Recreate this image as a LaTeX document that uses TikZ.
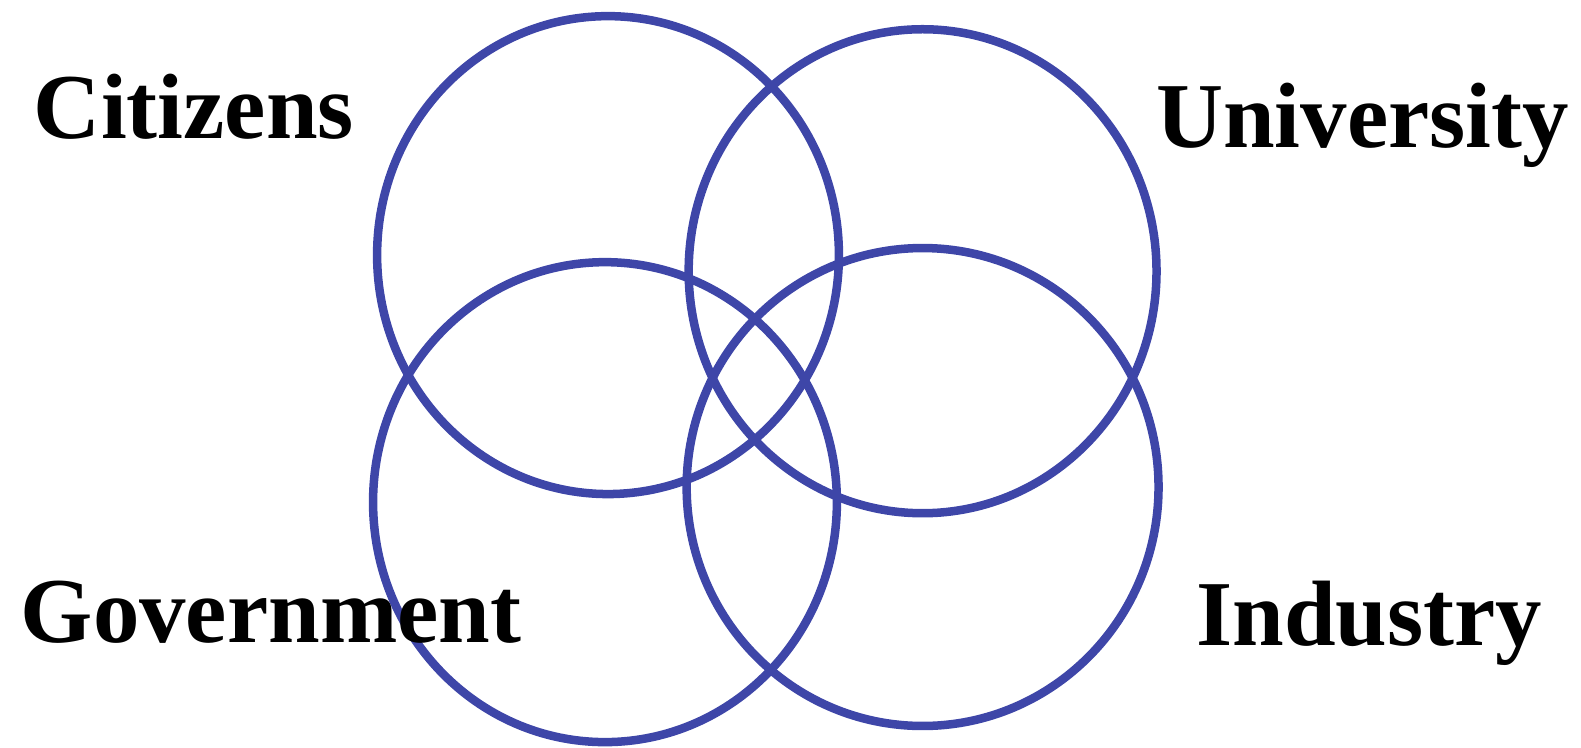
\documentclass[tikz,border=0pt]{standalone}
\usepackage{fontspec}
\setmainfont{Liberation Serif}
\usepackage{tikz}
\usetikzlibrary{positioning}

\definecolor{ringblue}{RGB}{62,70,168}

\tikzset{
  ring/.style={draw=ringblue, line width=2.4pt},
  sector/.style={inner sep=0pt, anchor=base west,
    font=\fontsize{26.2pt}{30pt}\selectfont\bfseries}
}

\begin{document}
\begin{tikzpicture}

  \useasboundingbox (0,0) rectangle (15.68,7.41);

  % The four overlapping rings
  \draw[ring] (6.03,4.88) ellipse [x radius=2.29, y radius=2.37];
  \draw[ring] (9.15,4.72) ellipse [x radius=2.32, y radius=2.40];
  \draw[ring] (6.00,2.43) ellipse [x radius=2.30, y radius=2.38];
  \draw[ring] (9.15,2.58) ellipse [x radius=2.34, y radius=2.37];

  % Labels in the corners
  \node[sector] (citizens)   at (0.33,6.04) {Citizens};
  \node[sector] (university) at (11.46,5.95) {University};
  \node[sector] (government) at (0.20,1.04) {Government};
  \node[sector] (industry)   at (11.86,1.01) {Industry};

\end{tikzpicture}
\end{document}
